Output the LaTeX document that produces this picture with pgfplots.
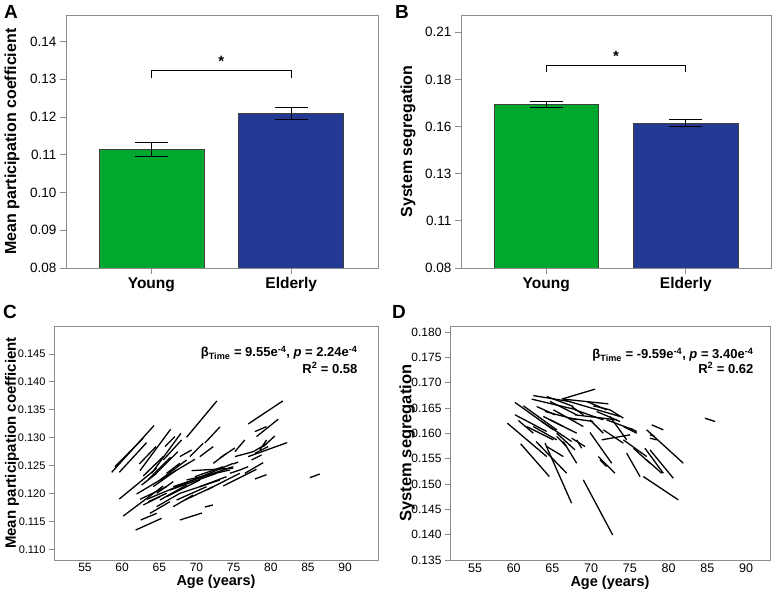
\documentclass[border=0pt]{standalone}
\usepackage{fontspec}
\setmainfont{Liberation Sans}
\usepackage{pgfplots}
\pgfplotsset{compat=1.18}
\definecolor{ygreen}{RGB}{0,168,46}
\definecolor{eblue}{RGB}{35,58,148}
\definecolor{framegray}{RGB}{140,140,140}

\pgfplotsset{
  panel/.style={scale only axis, anchor=south west,
    axis line style={framegray, line width=0.8pt},
    tick style={framegray, line width=0.8pt},
    tick align=outside, major tick length=6pt,
    xtick pos=bottom, ytick pos=left},
  barpanel/.style={panel, xmin=0.39, xmax=2.62, ymin=0.08,
    xtick={1,2}, xticklabels={Young,Elderly},
    xticklabel style={font=\fontsize{15.5}{18}\bfseries},
    yticklabel style={font=\fontsize{13.5}{16}\selectfont},
    ylabel style={font=\fontsize{16}{19}\bfseries, anchor=center}},
  linepanel/.style={panel, major tick length=5pt,
    xtick={55,60,65,70,75,80,85,90},
    xticklabels={55,60,65,70,75,80,85,90},
    xtick style={draw=none},
    xticklabel style={font=\fontsize{12}{14}\selectfont, yshift=5pt},
    yticklabel style={font=\fontsize{11}{13}\selectfont},
    ylabel style={font=\fontsize{15}{18}\bfseries, anchor=center},
    xlabel={Age (years)},
    xlabel style={font=\fontsize{14.5}{17}\bfseries, at={(axis description cs:0.5,0)}, anchor=center}},
  bar/.style={ybar, bar width=0.75, bar shift=0pt, draw=black!75, line width=0.6pt,
    error bars/y dir=both, error bars/y explicit,
    error bars/error bar style={black, line width=0.8pt},
    error bars/error mark options={black, rotate=90, mark size=16.5pt, line width=0.8pt}},
  seg/.style={black, line width=1.3pt, forget plot},
}

\begin{document}
\begin{tikzpicture}
\path[use as bounding box] (0,0) rectangle (775pt,593pt);

% ---------- A ----------
\begin{axis}[barpanel, at={(66pt,325pt)}, width=312pt, height=253pt, ymax=0.147,
  ytick={0.08,0.09,0.10,0.11,0.12,0.13,0.14},
  yticklabels={0.08,0.09,0.10,0.11,0.12,0.13,0.14},
  ylabel={Mean participation coefficient},
  ylabel style={at={(axis description cs:-0.173,0.5)}}]
\addplot[bar, fill=ygreen] coordinates {(1,0.1114) +- (0,0.0018)};
\addplot[bar, fill=eblue] coordinates {(2,0.1210) +- (0,0.0016)};
\addplot[black, line width=0.8pt] coordinates {(1,0.1303) (1,0.1323) (2,0.1323) (2,0.1303)};
\node[font=\fontsize{15}{18}\bfseries] at (axis cs:1.5,0.1348) {*};
\end{axis}

% ---------- B ----------
\begin{axis}[barpanel, at={(461pt,325pt)}, width=310pt, height=253pt, ymax=0.2142,
  xmax=2.61,
  ytick={0.08,0.105,0.13,0.155,0.18,0.205},
  yticklabels={0.08,0.11,0.13,0.16,0.18,0.21},
  ylabel={System segregation},
  ylabel style={at={(axis description cs:-0.171,0.5)}}]
\addplot[bar, fill=ygreen] coordinates {(1,0.1668) +- (0,0.0016)};
\addplot[bar, fill=eblue] coordinates {(2,0.1570) +- (0,0.0020)};
\addplot[black, line width=0.8pt] coordinates {(1,0.1841) (1,0.1873) (2,0.1873) (2,0.1841)};
\node[font=\fontsize{15}{18}\bfseries] at (axis cs:1.5,0.1925) {*};
\end{axis}

% ---------- C ----------
\begin{axis}[linepanel, at={(54pt,33pt)}, width=324pt, height=234pt,
  xmin=50.83, xmax=94.43, ymin=0.1081, ymax=0.1500,
  ytick={0.110,0.115,0.120,0.125,0.130,0.135,0.140,0.145},
  yticklabels={0.110,0.115,0.120,0.125,0.130,0.135,0.140,0.145},
  ylabel={Mean participation coefficient},
  ylabel style={at={(axis description cs:-0.130,0.5)}},
  xlabel style={yshift=-22pt}]
\addplot[seg] coordinates {(58.59,0.12380) (64.28,0.13216)};
\addplot[seg] coordinates {(59.03,0.12481) (62.84,0.12989)};
\addplot[seg] coordinates {(59.62,0.12380) (63.29,0.12912)};
\addplot[seg] coordinates {(62.31,0.12529) (64.55,0.12840)};
\addplot[seg] coordinates {(62.40,0.12410) (66.52,0.13151)};
\addplot[seg] coordinates {(62.84,0.12314) (65.53,0.12661)};
\addplot[seg] coordinates {(63.96,0.12362) (67.91,0.13079)};
\addplot[seg] coordinates {(65.53,0.12601) (68.00,0.12959)};
\addplot[seg] coordinates {(65.76,0.12840) (67.10,0.13019)};
\addplot[seg] coordinates {(68.67,0.13007) (72.75,0.13658)};
\addplot[seg] coordinates {(71.14,0.12906) (73.15,0.13192)};
\addplot[seg] coordinates {(76.96,0.13246) (81.62,0.13658)};
\addplot[seg] coordinates {(78.08,0.13019) (81.00,0.13330)};
\addplot[seg] coordinates {(77.86,0.13109) (79.43,0.13198)};
\addplot[seg] coordinates {(78.98,0.12840) (80.55,0.13031)};
\addplot[seg] coordinates {(76.96,0.12661) (82.21,0.12912)};
\addplot[seg] coordinates {(77.64,0.12750) (79.43,0.12888)};
\addplot[seg] coordinates {(75.17,0.12750) (76.51,0.12959)};
\addplot[seg] coordinates {(73.15,0.12637) (75.17,0.12816)};
\addplot[seg] coordinates {(73.60,0.12135) (78.08,0.12434)};
\addplot[seg] coordinates {(76.51,0.12362) (78.98,0.12553)};
\addplot[seg] coordinates {(77.86,0.12260) (79.43,0.12338)};
\addplot[seg] coordinates {(74.50,0.12362) (75.84,0.12422)};
\addplot[seg] coordinates {(74.95,0.12529) (75.62,0.12565)};
\addplot[seg] coordinates {(85.26,0.12284) (86.60,0.12350)};
\addplot[seg] coordinates {(67.77,0.11526) (70.73,0.11651)};
\addplot[seg] coordinates {(71.14,0.11759) (72.21,0.11795)};
\addplot[seg] coordinates {(61.81,0.11346) (65.31,0.11556)};
\addplot[seg] coordinates {(62.49,0.11526) (64.64,0.11645)};
\addplot[seg] coordinates {(59.62,0.11902) (64.64,0.12452)};
\addplot[seg] coordinates {(60.15,0.11597) (65.53,0.12135)};
\addplot[seg] coordinates {(61.95,0.11992) (69.79,0.12613)};
\addplot[seg] coordinates {(63.29,0.11896) (74.95,0.12541)};
\addplot[seg] coordinates {(62.40,0.11896) (65.98,0.12123)};
\addplot[seg] coordinates {(62.62,0.12153) (64.64,0.12362)};
\addplot[seg] coordinates {(63.74,0.11645) (66.43,0.11854)};
\addplot[seg] coordinates {(64.64,0.11765) (67.77,0.12004)};
\addplot[seg] coordinates {(65.09,0.11884) (68.67,0.12153)};
\addplot[seg] coordinates {(65.98,0.11944) (70.46,0.12243)};
\addplot[seg] coordinates {(66.43,0.12063) (72.70,0.12362)};
\addplot[seg] coordinates {(66.88,0.12123) (74.95,0.12481)};
\addplot[seg] coordinates {(67.33,0.11884) (71.36,0.12123)};
\addplot[seg] coordinates {(67.77,0.12004) (73.15,0.12243)};
\addplot[seg] coordinates {(68.67,0.12243) (74.50,0.12422)};
\addplot[seg] coordinates {(69.34,0.12410) (74.95,0.12452)};
\addplot[seg] coordinates {(69.79,0.12302) (73.60,0.12481)};
\addplot[seg] coordinates {(70.46,0.12123) (74.05,0.12302)};
\addplot[seg] coordinates {(71.36,0.12063) (75.84,0.12362)};
\addplot[seg] coordinates {(64.19,0.12123) (67.33,0.12422)};
\addplot[seg] coordinates {(65.09,0.12243) (68.67,0.12601)};
\addplot[seg] coordinates {(65.98,0.12362) (67.77,0.12541)};
\addplot[seg] coordinates {(63.52,0.11854) (65.98,0.12004)};
\addplot[seg] coordinates {(62.84,0.11795) (65.09,0.11944)};
\addplot[seg] coordinates {(72.26,0.12541) (74.05,0.12720)};
\addplot[seg] coordinates {(70.46,0.12661) (72.26,0.12840)};
\addplot[seg] coordinates {(67.77,0.12661) (69.34,0.12780)};
\addplot[seg] coordinates {(69.12,0.12661) (70.91,0.12900)};
\addplot[seg] coordinates {(75.17,0.12661) (77.64,0.12750)};
\addplot[seg] coordinates {(75.84,0.12422) (76.96,0.12481)};
\addplot[seg] coordinates {(77.41,0.12601) (78.76,0.12691)};
\addplot[seg] coordinates {(77.86,0.12720) (79.65,0.12840)};
\addplot[seg] coordinates {(78.53,0.12780) (79.43,0.12959)};
\addplot[seg] coordinates {(66.88,0.11765) (69.57,0.11974)};
\addplot[seg] coordinates {(68.45,0.11884) (72.26,0.12123)};
\addplot[seg] coordinates {(64.64,0.12004) (66.88,0.12213)};
\addplot[seg] coordinates {(63.50,0.12250) (66.50,0.12650)};
\addplot[seg] coordinates {(64.50,0.12350) (67.50,0.12750)};
\node[anchor=east, font=\fontsize{13}{15}\bfseries] at (axis description cs:0.9475,0.885)
  {β\textsubscript{Time} = 9.55e\textsuperscript{-4}, \textit{p} = 2.24e\textsuperscript{-4}};
\node[anchor=east, font=\fontsize{13}{15}\bfseries] at (axis description cs:0.9475,0.8205)
  {R\textsuperscript{2} = 0.58};
\end{axis}

% ---------- D ----------
\begin{axis}[linepanel, at={(450pt,33pt)}, width=320pt, height=234pt,
  xmin=51.77, xmax=93.1, ymin=0.135, ymax=0.1812,
  ytick={0.135,0.140,0.145,0.150,0.155,0.160,0.165,0.170,0.175,0.180},
  yticklabels={0.135,0.140,0.145,0.150,0.155,0.160,0.165,0.170,0.175,0.180},
  yticklabel style={font=\fontsize{12}{14}\selectfont},
  xticklabel style={font=\fontsize{12.5}{15}\selectfont},
  ylabel={System segregation},
  ylabel style={at={(axis description cs:-0.134,0.5)}, font=\fontsize{16.5}{19}\bfseries},
  xlabel style={yshift=-23pt}]
\addplot[seg] coordinates {(59.18,0.16201) (64.26,0.15542)};
\addplot[seg] coordinates {(60.17,0.16610) (65.12,0.16070)};
\addplot[seg] coordinates {(60.17,0.16366) (64.26,0.16037)};
\addplot[seg] coordinates {(60.90,0.15793) (64.60,0.15147)};
\addplot[seg] coordinates {(60.60,0.16254) (62.53,0.16004)};
\addplot[seg] coordinates {(61.24,0.16544) (65.55,0.16070)};
\addplot[seg] coordinates {(62.53,0.16746) (67.27,0.16627)};
\addplot[seg] coordinates {(62.32,0.16676) (68.13,0.16465)};
\addplot[seg] coordinates {(62.88,0.15839) (66.84,0.15213)};
\addplot[seg] coordinates {(64.04,0.15806) (67.48,0.14620)};
\addplot[seg] coordinates {(64.26,0.15740) (66.41,0.15542)};
\addplot[seg] coordinates {(68.99,0.15081) (72.78,0.13994)};
\addplot[seg] coordinates {(66.19,0.16676) (70.50,0.16873)};
\addplot[seg] coordinates {(66.41,0.16676) (72.22,0.16583)};
\addplot[seg] coordinates {(70.28,0.16544) (72.43,0.16465)};
\addplot[seg] coordinates {(66.41,0.16663) (73.73,0.16333)};
\addplot[seg] coordinates {(67.48,0.16531) (68.99,0.16366)};
\addplot[seg] coordinates {(67.91,0.16366) (73.30,0.16267)};
\addplot[seg] coordinates {(69.85,0.16017) (72.65,0.15411)};
\addplot[seg] coordinates {(70.93,0.15542) (73.08,0.15213)};
\addplot[seg] coordinates {(71.14,0.15477) (72.00,0.15345)};
\addplot[seg] coordinates {(71.57,0.16070) (74.16,0.15806)};
\addplot[seg] coordinates {(71.36,0.15872) (75.02,0.15971)};
\addplot[seg] coordinates {(74.16,0.15872) (77.17,0.15542)};
\addplot[seg] coordinates {(74.59,0.15608) (76.31,0.15147)};
\addplot[seg] coordinates {(75.02,0.16103) (75.88,0.16037)};
\addplot[seg] coordinates {(76.74,0.15147) (81.26,0.14686)};
\addplot[seg] coordinates {(76.95,0.15707) (79.32,0.15213)};
\addplot[seg] coordinates {(77.17,0.15477) (79.11,0.15213)};
\addplot[seg] coordinates {(77.60,0.15674) (80.61,0.15114)};
\addplot[seg] coordinates {(77.17,0.16070) (81.90,0.15411)};
\addplot[seg] coordinates {(77.82,0.16168) (79.32,0.16070)};
\addplot[seg] coordinates {(77.60,0.15971) (78.25,0.15938)};
\addplot[seg] coordinates {(77.60,0.15905) (78.46,0.15872)};
\addplot[seg] coordinates {(84.70,0.16300) (86.00,0.16234)};
\addplot[seg] coordinates {(75.45,0.15707) (77.60,0.15411)};
\addplot[seg] coordinates {(74.16,0.16135) (75.88,0.16004)};
\addplot[seg] coordinates {(72.00,0.16267) (75.45,0.16070)};
\addplot[seg] coordinates {(72.43,0.16465) (74.16,0.16300)};
\addplot[seg] coordinates {(67.91,0.16465) (71.57,0.16267)};
\addplot[seg] coordinates {(64.69,0.16267) (68.13,0.16004)};
\addplot[seg] coordinates {(65.12,0.16465) (68.99,0.16135)};
\addplot[seg] coordinates {(64.69,0.16630) (68.13,0.16366)};
\addplot[seg] coordinates {(63.82,0.16333) (66.41,0.16135)};
\addplot[seg] coordinates {(63.61,0.16234) (67.48,0.15839)};
\addplot[seg] coordinates {(65.55,0.15938) (66.84,0.15740)};
\addplot[seg] coordinates {(66.41,0.15839) (68.13,0.15411)};
\addplot[seg] coordinates {(67.48,0.15905) (69.21,0.15740)};
\addplot[seg] coordinates {(68.13,0.15872) (68.78,0.15707)};
\addplot[seg] coordinates {(62.53,0.16135) (65.55,0.15872)};
\addplot[seg] coordinates {(62.96,0.16531) (65.33,0.16366)};
\addplot[seg] coordinates {(67.27,0.16300) (70.28,0.16234)};
\addplot[seg] coordinates {(69.85,0.16267) (71.57,0.16004)};
\addplot[seg] coordinates {(64.04,0.16432) (68.13,0.16267)};
\addplot[seg] coordinates {(64.26,0.16728) (67.70,0.16531)};
\addplot[seg] coordinates {(70.71,0.16432) (73.73,0.16234)};
\addplot[seg] coordinates {(72.43,0.16333) (74.59,0.15872)};
\addplot[seg] coordinates {(69.42,0.16630) (72.00,0.16465)};
\addplot[seg] coordinates {(65.55,0.16004) (67.91,0.15674)};
\addplot[seg] coordinates {(61.67,0.16135) (65.12,0.15872)};
\node[anchor=east, font=\fontsize{13}{15}\bfseries] at (axis description cs:0.959,0.876)
  {β\textsubscript{Time} = -9.59e\textsuperscript{-4}, \textit{p} = 3.40e\textsuperscript{-4}};
\node[anchor=east, font=\fontsize{13}{15}\bfseries] at (axis description cs:0.959,0.8205)
  {R\textsuperscript{2} = 0.62};
\end{axis}

% panel letters
\node[font=\fontsize{19}{22}\bfseries] at (11pt,581pt) {A};
\node[font=\fontsize{19}{22}\bfseries] at (402pt,581pt) {B};
\node[font=\fontsize{19}{22}\bfseries] at (10pt,281pt) {C};
\node[font=\fontsize{19}{22}\bfseries] at (399pt,281pt) {D};
\end{tikzpicture}
\end{document}
